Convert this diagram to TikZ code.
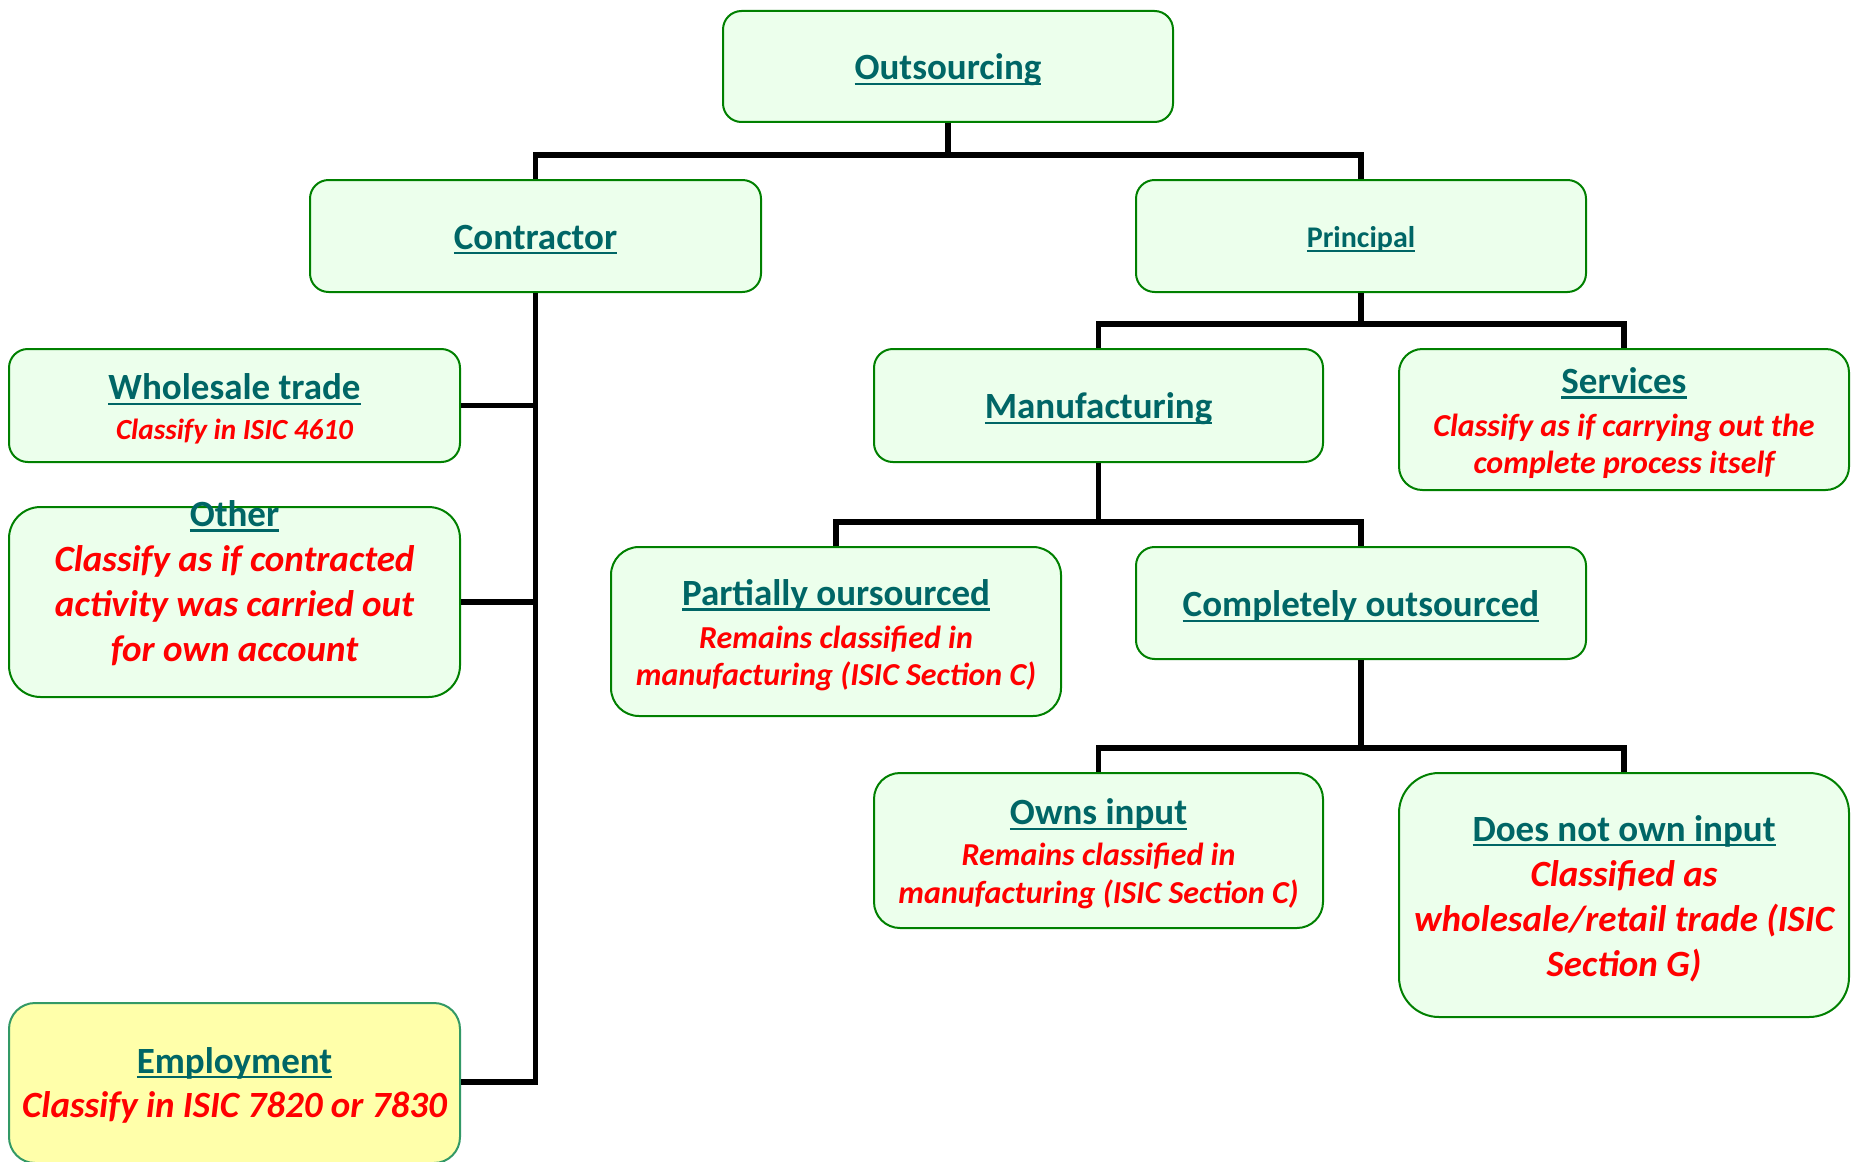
\documentclass[tikz,border=0pt]{standalone}
\usepackage{fontspec}
\setmainfont{Carlito}
\usetikzlibrary{calc}
\definecolor{ttlc}{RGB}{0,102,102}
\definecolor{rdc}{RGB}{255,0,0}
\definecolor{bxfill}{RGB}{236,255,236}
\definecolor{bxline}{RGB}{0,128,0}
\definecolor{yfill}{RGB}{255,255,170}
\definecolor{yline}{RGB}{51,153,102}
\newcommand{\ulx}[1]{\setbox0\hbox{#1}\rlap{\rule[-0.14em]{\wd0}{0.06em}}\box0}
\newcommand{\tit}[2][18.5]{{\fontsize{#1}{#1}\selectfont\bfseries\color{ttlc}\ulx{#2}}}
\newcommand{\rdt}[1]{{\bfseries\itshape\color{rdc}#1}}
\begin{document}
\begin{tikzpicture}[x=0.5pt,y=-0.5pt,
  box/.style={draw=bxline, fill=bxfill, line width=1pt, inner sep=0pt},
  ybox/.style={draw=yline, fill=yfill, line width=1pt, inner sep=0pt},
  txt/.style={align=center, inner sep=0pt, yshift=-1.75pt},
  conn/.style={line width=2.7pt, black}]
\useasboundingbox (0,0) rectangle (1856,1161);

\coordinate (b1) at (948,155);
\coordinate (b2) at (1361,324);
\coordinate (b3) at (1098.5,522);
\coordinate (b4) at (1361,748);

% boxes
\node[box, rounded corners=9.25pt, minimum width=225pt, minimum height=55.5pt] (out) at (948,66.5) {};
\node[box, rounded corners=9.3pt, minimum width=225.5pt, minimum height=56pt] (con) at (535.5,236) {};
\node[box, rounded corners=9.3pt, minimum width=225pt, minimum height=56pt] (pri) at (1361,236) {};
\node[box, rounded corners=9.4pt, minimum width=225.5pt, minimum height=56.5pt] (whs) at (234.5,405.5) {};
\node[box, rounded corners=15.8pt, minimum width=225.5pt, minimum height=95pt] (oth) at (234.5,602) {};
\node[ybox, rounded corners=13pt, minimum width=225.5pt, minimum height=80pt] (emp) at (234.5,1083) {};
\node[box, rounded corners=9.4pt, minimum width=224.5pt, minimum height=56.5pt] (man) at (1098.5,405.5) {};
\node[box, rounded corners=11.7pt, minimum width=225pt, minimum height=70.5pt] (ser) at (1624,419.5) {};
\node[box, rounded corners=14pt, minimum width=225pt, minimum height=84.5pt] (par) at (836,631.5) {};
\node[box, rounded corners=9.3pt, minimum width=225pt, minimum height=56pt] (com) at (1361,603) {};
\node[box, rounded corners=13pt, minimum width=224.5pt, minimum height=77.5pt] (own) at (1098.5,850.5) {};
\node[box, rounded corners=20pt, minimum width=225pt, minimum height=122pt] (dno) at (1624,895) {};

% texts
\node[txt] (out-t) at (out.center) {\tit{Outsourcing}};
\node[txt] (con-t) at (con.center) {\tit{Contractor}};
\node[txt] (pri-t) at (pri.center) {\tit[15]{Principal}};
\node[txt, font=\fontsize{14.6}{20}\selectfont] (whs-t) at (whs.center) {\tit{Wholesale trade}\\\rdt{Classify in ISIC 4610}};
\node[txt, yshift=1.75pt, font=\fontsize{18.5}{22.5}\selectfont] (oth-t) at (234.5,583) {\tit{Other}\\\rdt{Classify as if contracted}\\\rdt{activity was carried out}\\\rdt{for own account}};
\node[txt, font=\fontsize{18.5}{22}\selectfont] (emp-t) at (234.5,1081.5) {\tit{Employment}\\\rdt{Classify in ISIC 7820 or 7830}};
\node[txt] (man-t) at (man.center) {\tit{Manufacturing}};
\node[txt, font=\fontsize{16}{18.5}\selectfont] (ser-t) at (ser.center) {\tit{Services}\\[3pt]\rdt{Classify as if carrying out the}\\\rdt{complete process itself}};
\node[txt, font=\fontsize{16}{18.5}\selectfont] (par-t) at (par.center) {\tit{Partially oursourced}\\[3pt]\rdt{Remains classified in}\\\rdt{manufacturing (ISIC Section C)}};
\node[txt] (com-t) at (com.center) {\tit{Completely outsourced}};
\node[txt, font=\fontsize{16}{19}\selectfont] (own-t) at (own.center) {\tit{Owns input}\\[1.5pt]\rdt{Remains classified in}\\\rdt{manufacturing (ISIC Section C)}};
\node[txt, font=\fontsize{18.5}{22.5}\selectfont] (dno-t) at (dno.center) {\tit{Does not own input}\\\rdt{Classified as}\\\rdt{wholesale/retail trade (ISIC}\\\rdt{Section G)}};

% connector lines
\coordinate (ej) at (535.5,1082);
\draw[conn] (out.south) -- (b1);
\draw[conn] (con.north) |- (b1) -| (pri.north);
\draw[conn] (con.south) -- (ej) -- (emp.east |- ej);
\draw[conn] (whs.east) -- (whs.east -| con.south);
\draw[conn] (oth.east) -- (oth.east -| con.south);
\draw[conn] (pri.south) -- (b2);
\draw[conn] (man.north) |- (b2) -| (ser.north);
\draw[conn] (man.south) -- (b3);
\draw[conn] (par.north) |- (b3) -| (com.north);
\draw[conn] (com.south) -- (b4);
\draw[conn] (own.north) |- (b4) -| (dno.north);
\end{tikzpicture}
\end{document}
